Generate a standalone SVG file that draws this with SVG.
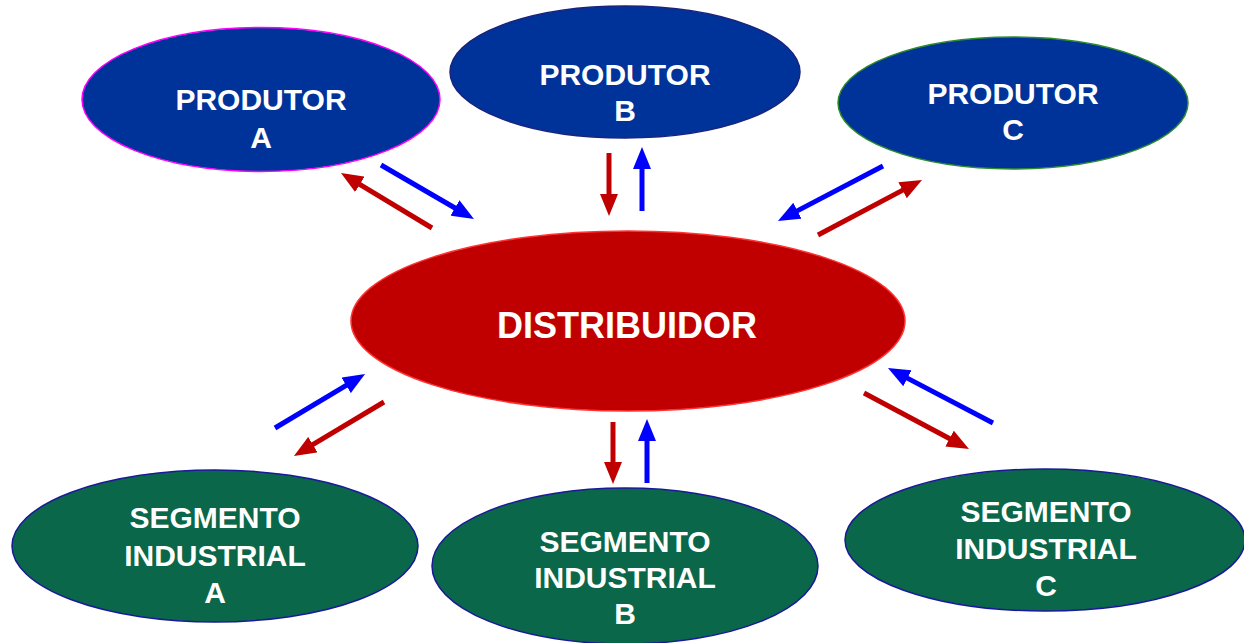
<svg xmlns="http://www.w3.org/2000/svg" width="1244" height="643" viewBox="0 0 1244 643">
  <style>
    .prod { fill: #003399; stroke-width: 1.5; }
    .seg { fill: #0A6749; stroke: #1A1A99; stroke-width: 1.5; }
    .dist { fill: #C00000; stroke: #FF3333; stroke-width: 1.5; }
    .lbl { font-family: "Liberation Sans", Arial, sans-serif; font-weight: bold; font-size: 30px; fill: #FFFFFF; text-anchor: middle; }
    .big { font-size: 36px; }
    .blue { stroke: #0000FF; stroke-width: 5; fill: none; marker-end: url(#headBlue); }
    .red { stroke: #C00000; stroke-width: 5; fill: none; marker-end: url(#headRed); }
  </style>
  <defs>
    <marker id="headBlue" markerUnits="userSpaceOnUse" markerWidth="22" markerHeight="18" viewBox="0 0 22 18" refX="4" refY="9" orient="auto">
      <path d="M0,0 L22,9 L0,18 z" fill="#0000FF"/>
    </marker>
    <marker id="headRed" markerUnits="userSpaceOnUse" markerWidth="22" markerHeight="18" viewBox="0 0 22 18" refX="4" refY="9" orient="auto">
      <path d="M0,0 L22,9 L0,18 z" fill="#C00000"/>
    </marker>
  </defs>
  <rect x="0" y="0" width="1244" height="643" fill="#FFFFFF"/>

  <g id="connectors">
    <line class="blue" x1="381" y1="165" x2="458.4" y2="210"/>
    <line class="red" x1="432" y1="228" x2="356.4" y2="182.3"/>
    <line class="red" x1="609" y1="153" x2="609" y2="198"/>
    <line class="blue" x1="642" y1="211" x2="642" y2="165"/>
    <line class="blue" x1="883" y1="166" x2="793.9" y2="212.6"/>
    <line class="red" x1="818" y1="235" x2="906.1" y2="188.4"/>
    <line class="blue" x1="275" y1="428" x2="349.6" y2="383.3"/>
    <line class="red" x1="384" y1="402" x2="309.4" y2="446.7"/>
    <line class="red" x1="613" y1="422" x2="613" y2="466"/>
    <line class="blue" x1="647" y1="483" x2="647" y2="437"/>
    <line class="blue" x1="993" y1="423" x2="903.9" y2="376.4"/>
    <line class="red" x1="864" y1="393" x2="953.1" y2="440.5"/>
  </g>

  <g id="produtor-a">
    <ellipse class="prod" cx="261" cy="99.5" rx="179" ry="72" stroke="#FF00FF"/>
    <text class="lbl" x="261" y="109.5">PRODUTOR</text>
    <text class="lbl" x="261" y="147.5">A</text>
  </g>
  <g id="produtor-b">
    <ellipse class="prod" cx="625" cy="72" rx="175" ry="66" stroke="#1A237E"/>
    <text class="lbl" x="625" y="85">PRODUTOR</text>
    <text class="lbl" x="625" y="121">B</text>
  </g>
  <g id="produtor-c">
    <ellipse class="prod" cx="1013" cy="103" rx="175" ry="66" stroke="#2E8B2E"/>
    <text class="lbl" x="1013" y="104">PRODUTOR</text>
    <text class="lbl" x="1013" y="140">C</text>
  </g>
  <g id="distribuidor">
    <ellipse class="dist" cx="628" cy="321" rx="277" ry="90"/>
    <text class="lbl big" x="627" y="338">DISTRIBUIDOR</text>
  </g>
  <g id="segmento-a">
    <ellipse class="seg" cx="215" cy="546" rx="203" ry="76"/>
    <text class="lbl" x="215" y="528">SEGMENTO</text>
    <text class="lbl" x="215" y="566">INDUSTRIAL</text>
    <text class="lbl" x="215" y="603">A</text>
  </g>
  <g id="segmento-b">
    <ellipse class="seg" cx="625" cy="566" rx="193" ry="78"/>
    <text class="lbl" x="625" y="552">SEGMENTO</text>
    <text class="lbl" x="625" y="588">INDUSTRIAL</text>
    <text class="lbl" x="625" y="624">B</text>
  </g>
  <g id="segmento-c">
    <ellipse class="seg" cx="1045" cy="540" rx="200" ry="71"/>
    <text class="lbl" x="1046" y="522">SEGMENTO</text>
    <text class="lbl" x="1046" y="559">INDUSTRIAL</text>
    <text class="lbl" x="1046" y="596">C</text>
  </g>
</svg>
